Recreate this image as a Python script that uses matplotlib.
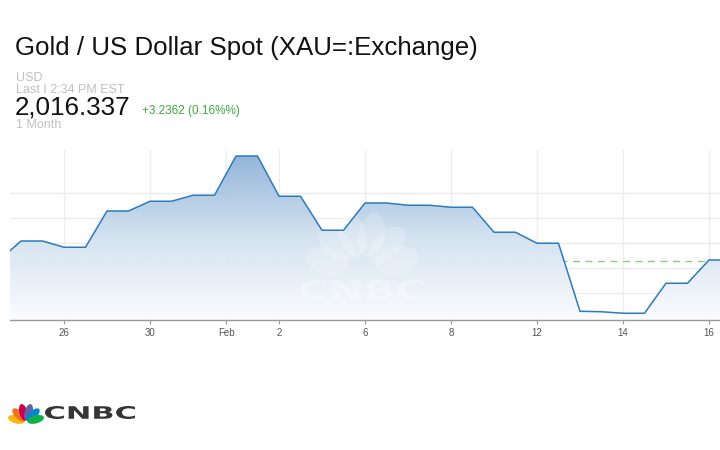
import numpy as np
import matplotlib
matplotlib.use("Agg")
import matplotlib.pyplot as plt
from matplotlib.colors import LinearSegmentedColormap
from matplotlib.patches import Ellipse, PathPatch
from matplotlib.textpath import TextPath
from matplotlib.font_manager import FontProperties
import matplotlib.transforms as mtransforms

plt.rcParams['font.family'] = ['Liberation Sans', 'DejaVu Sans']

# trading-day index (0 = Jan 26), half-day steps
t = [-1.5, -1.0, -0.5, 0.0, 0.5, 1.0, 1.5, 2.0, 2.5, 3.0, 3.5, 4.0, 4.5, 5.0, 5.5,
     6.0, 6.5, 7.0, 7.5, 8.0, 8.5, 9.0, 9.5, 10.0, 10.5, 11.0, 11.5, 12.0, 12.5,
     13.0, 13.5, 14.0, 14.5, 15.0, 15.5]
price = [2013.3, 2020.9, 2020.9, 2018.4, 2018.4, 2032.9, 2032.9, 2036.8, 2036.8,
         2039.2, 2039.2, 2054.9, 2054.9, 2038.8, 2038.8, 2025.2, 2025.2, 2036.1,
         2036.1, 2035.2, 2035.2, 2034.4, 2034.4, 2024.4, 2024.4, 2020.0, 2020.0,
         1992.8, 1992.6, 1992.0, 1992.0, 2004.0, 2004.0, 2013.3, 2013.3]
prev_close = 2013.1

tick_pos = [0, 2, 3.77, 5, 7, 9, 11, 13, 15]
tick_labels = ['26', '30', 'Feb', '2', '6', '8', '12', '14', '16']
grid_y = [2000, 2010, 2020, 2030, 2040]

ymin, ymax = 1989.3, 2057.3
xmin, xmax = -1.256, 15.256

fig = plt.figure(figsize=(7.2, 4.5), dpi=100)
ax = fig.add_axes([10 / 720, 1 - 320 / 450, 710 / 720, 170 / 450])
ax.set_xlim(xmin, xmax)
ax.set_ylim(ymin, ymax)

# pixel coords (origin top-left) -> figure
pix = mtransforms.Affine2D().scale(1 / 720, -1 / 450).translate(0, 1) + fig.transFigure


def stretched_text(s, x, y_base, width, height, color, alpha=1.0, target=None, z=3):
    # bold wordmark squeezed into a pixel box
    tp = TextPath((0, 0), s, size=10, prop=FontProperties(family='DejaVu Sans', weight='bold'))
    bb = tp.get_extents()
    tr = (mtransforms.Affine2D().translate(-bb.x0, -bb.y0)
          .scale(width / bb.width, -height / bb.height).translate(x, y_base) + pix)
    p = PathPatch(tp, transform=tr, facecolor=color, lw=0, alpha=alpha, zorder=z)
    if target is None:
        p.set_figure(fig)
        fig.patches.append(p)
    else:
        target.add_patch(p)


def peacock(cx, cy, r, w, h, colors, alpha=1.0, target=None, z=3):
    angles = np.linspace(165, 15, len(colors))
    for col, ang in zip(colors, angles):
        ex = cx + r * np.cos(np.radians(ang))
        ey = cy - r * np.sin(np.radians(ang))
        e = Ellipse((ex, ey), w, h, angle=90 - ang, transform=pix,
                    facecolor=col, lw=0, alpha=alpha, zorder=z)
        if target is None:
            e.set_figure(fig)
            fig.patches.append(e)
        else:
            target.add_patch(e)


# grid
for gy in grid_y:
    ax.axhline(gy, color='#ebebeb', lw=1, zorder=0)
for tp_ in tick_pos:
    ax.axvline(tp_, color='#ededed', lw=1, zorder=0)

# previous close
ax.axhline(prev_close, color='#86cf7f', lw=1, ls=(0, (5, 4)), zorder=1)

# gradient fill
cmap = LinearSegmentedColormap.from_list('g', ['#fbfcfe', '#d3e2f0', '#8fb2d8'])
grad = np.linspace(0, 1, 256).reshape(-1, 1)
fill = ax.fill_between(t, price, ymin, color='none', lw=0)
img = ax.imshow(grad, cmap=cmap, aspect='auto', origin='lower',
                extent=[xmin, xmax, ymin, 2055], zorder=2, alpha=0.96)
img.set_clip_path(fill.get_paths()[0], transform=ax.transData)

# faint watermark
peacock(362, 270, 36, 27, 44, ['white'] * 6, alpha=0.2, target=ax, z=3)
stretched_text('CNBC', 300, 300, 123, 20, 'white', alpha=0.3, target=ax, z=3)

ax.plot(t, price, color='#2b7bbd', lw=1.1, zorder=4)

# axes styling
for s in ['top', 'right', 'left']:
    ax.spines[s].set_visible(False)
ax.spines['bottom'].set_color('#9a9a9a')
ax.spines['bottom'].set_linewidth(1)
ax.set_yticks([])
ax.set_xticks(tick_pos)
ax.set_xticklabels(tick_labels)
ax.tick_params(axis='x', length=3, width=0.8, color='#9a9a9a', labelsize=7,
               labelcolor='#555555', pad=3)
ax.set_facecolor('white')

# header text
fig.text(15 / 720, 1 - 55 / 450, 'Gold / US Dollar Spot (XAU=:Exchange)',
         fontsize=18.6, color='#111111', va='baseline')
fig.text(16 / 720, 1 - 80.7 / 450, 'USD', fontsize=9, color='#c0c0c0', va='baseline')
fig.text(16 / 720, 1 - 92.7 / 450, 'Last I 2:34 PM EST', fontsize=9, color='#c0c0c0',
         va='baseline')
fig.text(15 / 720, 1 - 115 / 450, '2,016.337', fontsize=18.7, color='#111111', va='baseline')
fig.text(142 / 720, 1 - 114.3 / 450, '+3.2362 (0.16%%)', fontsize=8.5, color='#3aaa40',
         va='baseline')
fig.text(16 / 720, 1 - 127.5 / 450, '1 Month', fontsize=9, color='#c0c0c0', va='baseline')

# CNBC logo bottom-left
peacock(26, 422, 10, 8, 17, ['#fcb711', '#f37021', '#cc004c', '#6460aa', '#0089d0', '#0db14b'])
e = Ellipse((26, 421), 4, 8, transform=pix, facecolor='white', lw=0)
e.set_figure(fig)
fig.patches.append(e)
stretched_text('CNBC', 45, 419, 90, 13, '#353535')

fig.savefig('out.png', dpi=100)
